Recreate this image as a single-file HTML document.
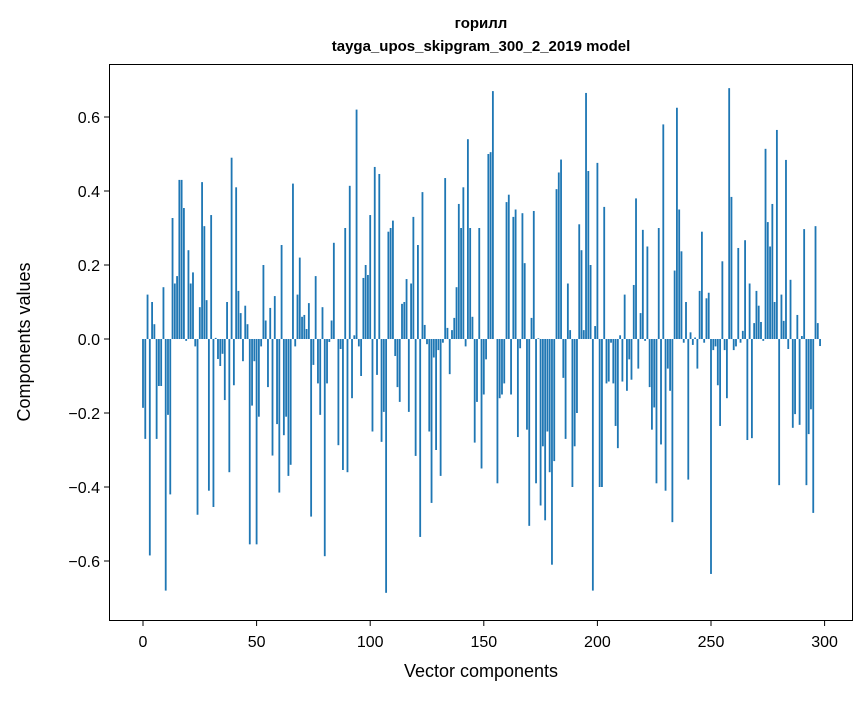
<!DOCTYPE html>
<html><head><meta charset="utf-8"><style>
body{margin:0;background:#fff;}
svg text{font-family:"Liberation Sans","DejaVu Sans",sans-serif;fill:#000;}
</style></head><body>
<svg id="chart" width="867" height="696" xmlns="http://www.w3.org/2000/svg">
<text x="481" y="28" font-size="15" font-weight="bold" text-anchor="middle">горилл</text>
<text x="481" y="51" font-size="15" font-weight="bold" text-anchor="middle">tayga_upos_skipgram_300_2_2019 model</text>
<g id="bars"></g>
<rect x="109.5" y="64.5" width="743" height="556" fill="none" stroke="#000" stroke-width="1"/>
<g id="xt"></g>
<g id="yt"></g>
<text x="481" y="677" font-size="18" text-anchor="middle">Vector components</text>
<text transform="translate(30,342) rotate(-90)" font-size="18" text-anchor="middle">Components values</text>
</svg>
<script>
const values = [
-0.186,-0.27,0.12,-0.585,0.10,0.04,-0.27,-0.127,-0.127,0.14,
-0.68,-0.205,-0.42,0.327,0.15,0.17,0.43,0.43,0.354,-0.005,
0.24,0.15,0.18,-0.02,-0.475,0.086,0.424,0.305,0.105,-0.41,
0.335,-0.454,0.003,-0.054,-0.073,-0.04,-0.165,0.10,
-0.36,0.49,-0.125,0.41,0.13,0.07,-0.06,0.09,0.04,-0.555,-0.18,-0.06,-0.555,-0.21,-0.02,0.20,0.05,-0.13,0.084,-0.315,0.116,-0.23,-0.415,0.254,-0.26,-0.21,-0.37,-0.34,0.42,-0.02,0.12,0.22,0.06,0.065,0.027,0.097,-0.48,
-0.07,0.17,-0.12,-0.205,0.086,-0.587,-0.12,-0.008,0.05,0.26,
0.0,-0.287,-0.027,-0.354,0.30,-0.36,0.414,-0.16,0.01,0.62,-0.02,-0.10,0.165,0.20,0.173,0.335,-0.25,0.465,-0.097,
0.446,-0.278,-0.197,-0.686,0.29,0.30,0.32,-0.046,-0.13,-0.17,0.095,0.10,0.162,-0.197,0.15,0.33,-0.316,0.254,-0.535,0.397,0.038,-0.014,-0.25,-0.443,-0.05,-0.30,-0.03,-0.37,
-0.01,0.435,0.03,-0.095,0.024,0.057,0.14,0.365,0.30,0.41,-0.02,0.54,0.30,0.06,-0.28,-0.17,0.30,-0.35,-0.15,-0.055,0.5,0.505,0.67,0.0,-0.39,-0.16,-0.15,-0.12,0.37,0.39,-0.15,0.33,0.35,-0.265,-0.025,0.34,0.205,-0.245,-0.505,0.057,0.346,-0.39,0.002,
-0.45,-0.29,-0.49,-0.25,-0.36,-0.61,-0.33,0.405,0.45,0.485,-0.105,-0.27,0.15,0.024,-0.40,-0.29,-0.2,0.31,0.24,0.024,0.665,0.454,0.20,-0.68,0.035,0.476,-0.40,-0.40,0.357,-0.12,-0.115,-0.01,-0.12,-0.235,-0.295,0.01,-0.115,0.12,-0.14,-0.055,-0.11,0.146,0.38,
-0.08,0.07,0.295,-0.005,0.25,-0.13,-0.245,-0.185,-0.39,0.30,-0.285,0.58,-0.41,-0.08,-0.14,-0.495,0.185,0.625,0.35,0.237,-0.01,0.10,-0.38,0.018,-0.016,0.004,-0.08,0.13,0.29,-0.01,0.11,0.125,-0.635,-0.03,-0.02,-0.125,-0.235,0.21,-0.03,-0.16,0.678,0.384,-0.03,-0.02,
0.246,-0.01,0.022,0.267,-0.273,0.15,-0.268,0.043,0.13,0.09,0.046,-0.005,0.514,0.316,0.25,0.365,0.10,0.565,-0.395,0.12,0.049,0.484,-0.027,0.16,-0.24,-0.203,0.065,-0.232,0.008,0.297,-0.395,-0.257,-0.19,-0.47,0.305,0.043,-0.019,0.0];
const xTicks = [0,50,100,150,200,250,300];
const yTicks = [-0.6,-0.4,-0.2,0.0,0.2,0.4,0.6];
const yTickLabels = ["\u22120.6","\u22120.4","\u22120.2","0.0","0.2","0.4","0.6"];

const NS="http://www.w3.org/2000/svg";
function xs(v){return 143+v*2.272;}
function ys(v){return 339-v*370;}
const bars=document.getElementById('bars');
values.forEach((v,i)=>{
  const r=document.createElementNS(NS,'rect');
  
  
  const y0=ys(Math.max(v,0)), y1=ys(Math.min(v,0));
  r.setAttribute('x',xs(i-0.4));
  r.setAttribute('width',2.272*0.8);
  r.setAttribute('y',y0);
  r.setAttribute('height',Math.max(y1-y0,0.01));
  r.setAttribute('fill','#1f77b4');
  bars.appendChild(r);
});
const xt=document.getElementById('xt');
xTicks.forEach(t=>{
  const l=document.createElementNS(NS,'line');
  
  
  l.setAttribute('x1',xs(t));l.setAttribute('x2',xs(t));
  l.setAttribute('y1',621);l.setAttribute('y2',626);l.setAttribute('stroke','#000');
  xt.appendChild(l);
  const tx=document.createElementNS(NS,'text');
  
  
  tx.setAttribute('x',xs(t));tx.setAttribute('y',647);
  tx.setAttribute('font-size','16');tx.setAttribute('text-anchor','middle');
  tx.textContent=t;xt.appendChild(tx);
});
const yt=document.getElementById('yt');
yTicks.forEach((t,i)=>{
  const l=document.createElementNS(NS,'line');
  
  
  l.setAttribute('x1',104);l.setAttribute('x2',109);
  l.setAttribute('y1',ys(t));l.setAttribute('y2',ys(t));l.setAttribute('stroke','#000');
  yt.appendChild(l);
  const tx=document.createElementNS(NS,'text');
  
  
  tx.setAttribute('x',100);tx.setAttribute('y',ys(t)+6);
  tx.setAttribute('font-size','16');tx.setAttribute('text-anchor','end');
  tx.textContent=yTickLabels[i];yt.appendChild(tx);
});
</script>
</body></html>
